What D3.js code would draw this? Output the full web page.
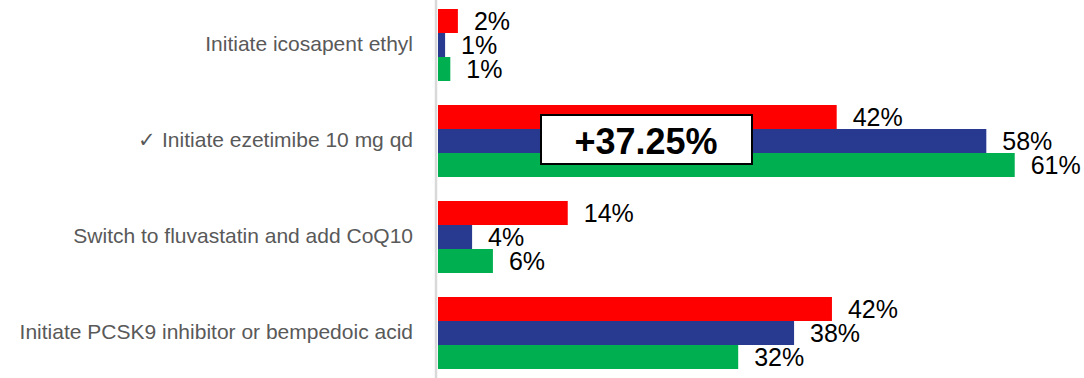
<!DOCTYPE html>
<html><head><meta charset="utf-8">
<script src="https://cdn.jsdelivr.net/npm/d3@7"></script>
<style>
html,body{margin:0;padding:0;background:#fff;}
svg{display:block;}
text{font-family:"Liberation Sans", Arial, sans-serif;}
</style></head>
<body><svg id="chart" width="1084" height="378"></svg>
<script>
const categories = [
  "Initiate icosapent ethyl",
  "\u2713 Initiate ezetimibe 10 mg qd",
  "Switch to fluvastatin and add CoQ10",
  "Initiate PCSK9 inhibitor or bempedoic acid"
];
const seriesNames = ["Red", "Blue", "Green"];
const redValues   = [2.1, 42.1, 13.7, 41.6];
const blueValues  = [0.75, 57.9, 3.6, 37.6];
const greenValues = [1.3, 60.9, 5.8, 31.7];
const seriesColors = ["#FF0000", "#283A8F", "#00B050"];
const annotationText = "+37.25%";

const svg = d3.select("#chart");
const W = 1084, H = 378;
const axisX = 438;

const x = d3.scaleLinear().domain([0, 100]).range([axisX, axisX + 947]);
const y = d3.scaleBand().domain(categories).range([-3, 381]).paddingInner(0.25).paddingOuter(0.125);
const ys = d3.scaleBand().domain(seriesNames).range([0, y.bandwidth()]);

const series = [redValues, blueValues, greenValues];
const rows = [];
categories.forEach((c, i) => {
  series.forEach((vals, s) => rows.push({cat: c, s: seriesNames[s], color: seriesColors[s], v: vals[i]}));
});

// axis line
svg.append("line").attr("x1", 436).attr("x2", 436).attr("y1", 0).attr("y2", H)
  .attr("stroke", "#D9D9D9").attr("stroke-width", 2.5);

// bars
svg.append("g").selectAll("rect").data(rows).join("rect")
  .attr("x", x(0))
  .attr("y", d => y(d.cat) + ys(d.s))
  .attr("width", d => x(d.v) - x(0))
  .attr("height", ys.bandwidth())
  .attr("fill", d => d.color);

// value labels
const fmt = v => d3.format(".0f")(v) + "%";
svg.append("g").selectAll("text").data(rows).join("text")
  .attr("x", d => x(d.v) + 16)
  .attr("y", d => y(d.cat) + ys(d.s) + ys.bandwidth() / 2)
  .attr("dy", "0.36em")
  .attr("font-size", 25)
  .attr("fill", "#000")
  .text(d => fmt(d.v));

// category labels
svg.append("g").selectAll("text").data(categories).join("text")
  .attr("x", 413)
  .attr("y", d => y(d) + y.bandwidth() / 2)
  .attr("dy", "0.3em")
  .attr("text-anchor", "end")
  .attr("font-size", 21)
  .attr("fill", "#595959")
  .text(d => d);

// annotation box
const ann = svg.append("g");
ann.append("rect").attr("x", 541).attr("y", 115).attr("width", 211).attr("height", 49)
  .attr("fill", "#fff").attr("stroke", "#000").attr("stroke-width", 2);
ann.append("text").attr("x", 646).attr("y", 141).attr("dy", "0.36em")
  .attr("text-anchor", "middle").attr("font-size", 36).attr("font-weight", "bold")
  .attr("fill", "#000").text(annotationText);
</script></body></html>
